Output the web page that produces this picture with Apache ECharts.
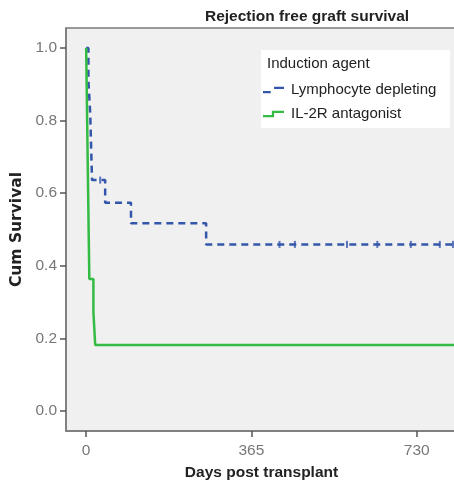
<!DOCTYPE html>
<html><head><meta charset="utf-8">
<script src="https://cdn.jsdelivr.net/npm/echarts@6/dist/echarts.min.js"></script>
<style>html,body{margin:0;padding:0;background:#fff}#c{width:454px;height:481px}</style>
</head><body><div id="c"></div>
<script>
// Data
const xTicks = [0, 365, 730];
const yTicks = [0, 0.2, 0.4, 0.6, 0.8, 1.0];
const ldDays = [0, 5, 9, 11, 13, 42, 99, 265, 819];
const ldSurv = [1.0, 0.909, 0.818, 0.727, 0.636, 0.574, 0.517, 0.459, 0.459];
const ldCensorDays = [31, 427, 461, 576, 643, 717, 781, 810];
const ldCensorSurv = [0.636, 0.459, 0.459, 0.459, 0.459, 0.459, 0.459, 0.459];
const ilDays = [0, 1, 2, 3, 4, 5, 6, 7, 16, 20, 819];
const ilSurv = [1.0, 0.909, 0.818, 0.727, 0.636, 0.545, 0.455, 0.364, 0.273, 0.182, 0.182];

const pair = (xs, ys) => xs.map((x, i) => [x, ys[i]]);
const FONT = '"Liberation Sans", Arial, sans-serif';
const chart = echarts.init(document.getElementById('c'), null, {renderer: 'canvas'});
chart.setOption({
  animation: false,
  backgroundColor: '#ffffff',
  textStyle: {fontFamily: FONT},
  title: {
    text: 'Rejection free graft survival', left: 205, top: 9, padding: 0,
    textStyle: {fontSize: 15.5, fontWeight: 'bold', color: '#222', fontFamily: FONT}
  },
  grid: {left: 66, top: 28, right: -3, bottom: 50, containLabel: false, outerBoundsMode: 'none',
         show: true, backgroundColor: '#f0f0f0', borderColor: '#7a7a7a', borderWidth: 1.5},
  xAxis: {
    type: 'value', min: -44.5, max: 819,
    name: 'Days post transplant', nameLocation: 'middle', nameGap: 34,
    nameTextStyle: {fontSize: 15.5, fontWeight: 'bold', color: '#222', fontFamily: FONT},
    axisLine: {show: true, onZero: false, lineStyle: {color: '#7a7a7a', width: 1.5}},
    axisTick: {show: true, length: 6, customValues: xTicks, lineStyle: {color: '#555', width: 1.5}},
    axisLabel: {customValues: xTicks, color: '#777', fontSize: 15.5, margin: 12, fontFamily: FONT},
    splitLine: {show: false}
  },
  yAxis: {
    type: 'value', min: -0.055, max: 1.055,
    name: 'Cum Survival', nameLocation: 'middle', nameGap: 38,
    nameTextStyle: {fontSize: 15.5, fontWeight: 'bold', color: '#222', fontFamily: '"DejaVu Sans", sans-serif'},
    axisLine: {show: true, onZero: false, lineStyle: {color: '#7a7a7a', width: 1.5}},
    axisTick: {show: true, length: 6, customValues: yTicks, lineStyle: {color: '#555', width: 1.5}},
    axisLabel: {customValues: yTicks, color: '#777', fontSize: 15.5, margin: 9, fontFamily: FONT, formatter: v => v.toFixed(1)},
    splitLine: {show: false}
  },
  legend: {
    z: 10, orient: 'vertical', left: 263, top: 82, itemGap: 8, itemWidth: 21, itemHeight: 10, padding: 0,
    textStyle: {fontSize: 15, lineHeight: 16, color: '#222', fontFamily: FONT, padding: [0, 0, 0, 2]},
    data: [
      {name: 'Lymphocyte depleting', icon: 'path://M0,5 L7,5 L7,7 L0,7 Z M10,1 L19,1 L19,3 L10,3 Z', itemStyle: {color: '#3355aa'}},
      {name: 'IL-2R antagonist', icon: 'path://M0,5 L8,5 L8,1 L19,1 L19,3 L10,3 L10,7 L0,7 Z', itemStyle: {color: '#33bb44'}}
    ]
  },
  graphic: [
    {type: 'rect', left: 261, top: 50, shape: {width: 189, height: 78}, style: {fill: '#ffffff', stroke: null}, z: 5},
    {type: 'text', left: 267, top: 56, style: {text: 'Induction agent', fontSize: 15, fill: '#222', fontFamily: FONT}, z: 6}
  ],
  series: [
    {
      name: 'Lymphocyte depleting', type: 'line', step: 'end', showSymbol: false, symbol: 'none',
      data: pair(ldDays, ldSurv), z: 3,
      lineStyle: {color: '#3355aa', width: 2.5, type: [7, 5]}, itemStyle: {color: '#3355aa'}
    },
    {
      name: 'Lymphocyte depleting', type: 'scatter', symbol: 'rect', symbolSize: [2, 7],
      data: pair(ldCensorDays, ldCensorSurv), itemStyle: {color: '#3355aa'}, z: 3
    },
    {
      name: 'IL-2R antagonist', type: 'line', step: 'end', showSymbol: false, symbol: 'none',
      data: pair(ilDays, ilSurv), z: 4,
      lineStyle: {color: '#33bb44', width: 2.5}, itemStyle: {color: '#33bb44'}
    }
  ]
});
</script></body></html>
